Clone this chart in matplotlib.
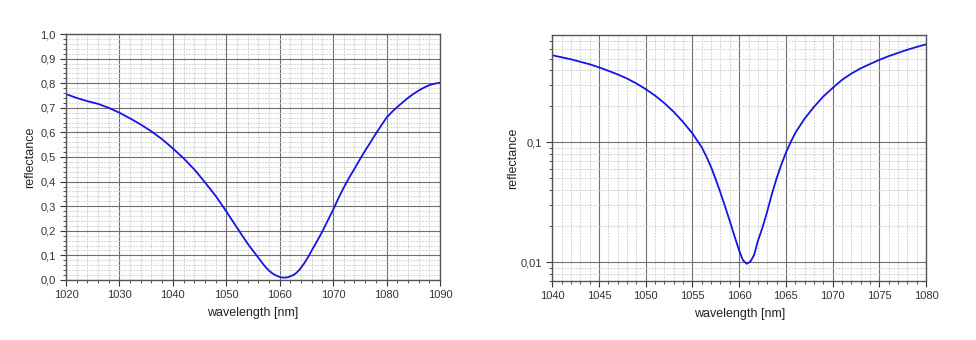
import numpy as np
import matplotlib
matplotlib.use('Agg')
import matplotlib.pyplot as plt
from matplotlib.ticker import MultipleLocator, FuncFormatter, LogLocator, NullFormatter

plt.rcParams['font.family'] = ['Liberation Sans', 'DejaVu Sans']

# reflectance spectrum
wavelength = [1020, 1022, 1024, 1026, 1028, 1030, 1032, 1034, 1036, 1038,
              1040, 1042, 1044, 1045, 1046, 1047, 1048, 1049, 1050, 1051,
              1052, 1053, 1054, 1055, 1056, 1056.5, 1057, 1057.5, 1058, 1058.5,
              1059, 1059.5, 1060, 1060.4, 1060.8, 1061.2, 1061.6, 1062, 1062.5, 1063,
              1063.5, 1064, 1064.5, 1065, 1065.5, 1066, 1067, 1068, 1069, 1070,
              1071, 1072, 1073, 1074, 1075, 1076, 1077, 1078, 1079, 1080,
              1081, 1082, 1083, 1084, 1085, 1086, 1087, 1088, 1089, 1090]
reflectance = [0.756, 0.740, 0.727, 0.716, 0.700, 0.680, 0.657, 0.632, 0.604, 0.572,
               0.535, 0.495, 0.450, 0.424, 0.397, 0.370, 0.342, 0.311, 0.279, 0.246,
               0.213, 0.180, 0.148, 0.119, 0.091, 0.076, 0.062, 0.049, 0.038, 0.029,
               0.022, 0.0165, 0.0125, 0.0104, 0.0097, 0.0101, 0.0115, 0.0150, 0.0195, 0.0265,
               0.037, 0.050, 0.065, 0.082, 0.100, 0.120, 0.158, 0.198, 0.242, 0.285,
               0.333, 0.376, 0.416, 0.452, 0.490, 0.526, 0.560, 0.595, 0.628, 0.660,
               0.683, 0.703, 0.722, 0.740, 0.756, 0.770, 0.782, 0.792, 0.798, 0.802]

line_color = '#1414e6'
major_grid = '#6e6e6e'
minor_grid = '#c8c8c8'
spine_color = '#555555'


def comma(fmt):
    return FuncFormatter(lambda v, pos: fmt.format(v).replace('.', ','))


def style_axes(ax, ypad):
    for s in ax.spines.values():
        s.set_color(spine_color)
        s.set_linewidth(1.0)
    ax.tick_params(which='both', direction='out', colors='#333333', labelsize=8,
                   top=False, right=False)
    ax.tick_params(which='major', length=4, width=0.8)
    ax.tick_params(which='minor', length=2, width=0.6)
    ax.grid(which='major', color=major_grid, linewidth=0.8, linestyle='-')
    ax.grid(which='minor', color=minor_grid, linewidth=0.6, linestyle=(0, (2, 1.5)))
    ax.set_axisbelow(True)
    ax.set_xlabel('wavelength [nm]', fontsize=9, color='#222222', labelpad=5)
    ax.set_ylabel('reflectance', fontsize=9, color='#222222', labelpad=ypad)


fig = plt.figure(figsize=(9.76, 3.40), dpi=100)

# linear plot
ax1 = fig.add_axes([0.0676, 0.1765, 0.3832, 0.7235])
ax1.plot(wavelength, reflectance, color=line_color, linewidth=1.3)
ax1.set_xlim(1020, 1090)
ax1.set_ylim(0, 1)
ax1.xaxis.set_major_locator(MultipleLocator(10))
ax1.xaxis.set_minor_locator(MultipleLocator(2))
ax1.yaxis.set_major_locator(MultipleLocator(0.1))
ax1.yaxis.set_minor_locator(MultipleLocator(0.02))
ax1.yaxis.set_major_formatter(comma('{:.1f}'))
style_axes(ax1, 3)

# log plot
ax2 = fig.add_axes([0.5659, 0.1744, 0.3829, 0.7226])
ax2.plot(wavelength, reflectance, color=line_color, linewidth=1.3)
ax2.set_yscale('log')
ax2.set_xlim(1040, 1080)
ax2.set_ylim(0.007, 0.79)
ax2.xaxis.set_major_locator(MultipleLocator(5))
ax2.xaxis.set_minor_locator(MultipleLocator(1))
ax2.yaxis.set_major_locator(LogLocator(base=10))
ax2.yaxis.set_minor_locator(LogLocator(base=10, subs=np.arange(2, 10)))
ax2.yaxis.set_minor_formatter(NullFormatter())
ax2.yaxis.set_major_formatter(FuncFormatter(lambda v, pos: ('{:g}'.format(v)).replace('.', ',')))
style_axes(ax2, 1)

fig.savefig('out.png', dpi=100, facecolor='white')
